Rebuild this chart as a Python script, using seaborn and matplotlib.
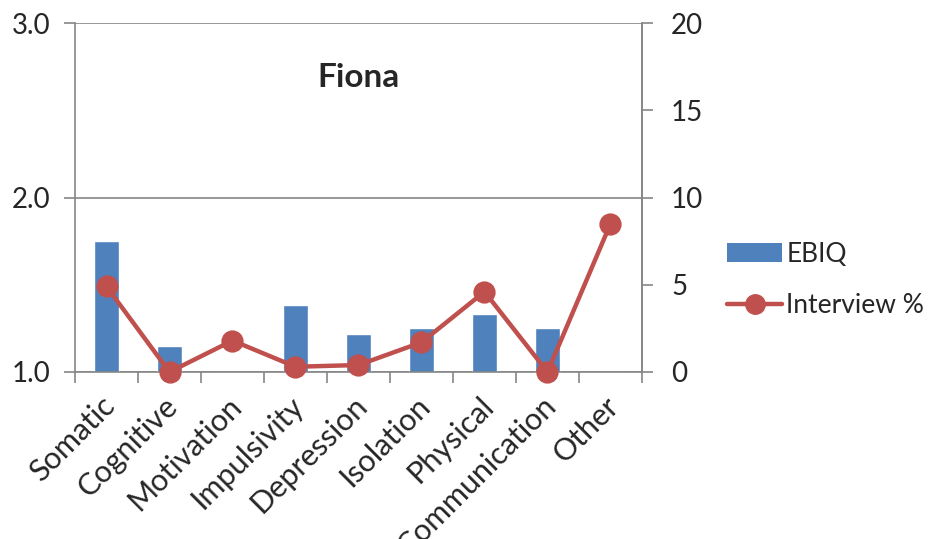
import matplotlib
matplotlib.use("Agg")
import matplotlib.pyplot as plt
from matplotlib.lines import Line2D
from matplotlib.patches import Patch
from matplotlib.ticker import FixedLocator, NullFormatter
from matplotlib.transforms import ScaledTranslation
import numpy as np
import pandas as pd
import seaborn as sns

categories = ["Somatic", "Cognitive", "Motivation", "Impulsivity", "Depression",
              "Isolation", "Physical", "Communication", "Other"]
ebiq = [1.75, 1.15, 1.0, 1.385, 1.22, 1.25, 1.333, 1.25, 1.0]
interview_pct = [4.9, 0.0, 1.8, 0.3, 0.4, 1.7, 4.6, 0.0, 8.5]
left_ticks = [1.0, 2.0, 3.0]
left_labels = ["1.0", "2.0", "3.0"]
right_ticks = [0, 5, 10, 15, 20]

BAR_COLOR = "#4F81BD"
LINE_COLOR = "#C0504D"
AXIS_GREY = "#868686"

sns.set_theme(style="white")
plt.rcParams["font.family"] = ["Lato", "DejaVu Sans"]

df = pd.DataFrame({"category": categories, "EBIQ": ebiq, "Interview %": interview_pct})

fig = plt.figure(figsize=(9.29, 5.39), dpi=100)
ax = fig.add_axes([75 / 929, 1 - 372 / 539, (642 - 75) / 929, (372 - 23) / 539])

sns.barplot(data=df, x="category", y="EBIQ", color=BAR_COLOR, width=0.4,
            saturation=1, ax=ax, zorder=2)
ax.set_ylim(1.0, 3.0)
ax.set_xlim(-0.5, len(categories) - 0.5)
ax.set_yticks(left_ticks)
ax.set_yticklabels(left_labels)
ax.yaxis.grid(True, color=AXIS_GREY, linewidth=1.2)
ax.set_axisbelow(True)
ax.set_xlabel("")
ax.set_ylabel("")

# category boundary ticks along the bottom
ax.xaxis.set_minor_locator(FixedLocator(np.arange(-0.5, len(categories), 1.0)))
ax.xaxis.set_minor_formatter(NullFormatter())
ax.tick_params(axis="x", which="minor", length=8, width=1.2, color=AXIS_GREY, direction="out", bottom=True)
ax.tick_params(axis="x", which="major", length=0, pad=21)
ax.tick_params(axis="y", which="major", length=8, width=1.2, color=AXIS_GREY, direction="out",
               left=True, labelsize=20, pad=10)
ax.set_xticks(range(len(categories)))
ax.set_xticklabels(categories, rotation=45, ha="right", va="center",
                   rotation_mode="anchor", fontsize=22)
shift = ScaledTranslation(4 / 100, 0, fig.dpi_scale_trans)
for lab in ax.get_xticklabels():
    lab.set_transform(lab.get_transform() + shift)

for side in ["left", "bottom", "right"]:
    ax.spines[side].set_color(AXIS_GREY)
    ax.spines[side].set_linewidth(1.2)
ax.spines["top"].set_visible(False)

ax2 = ax.twinx()
sns.pointplot(data=df, x="category", y="Interview %", color=LINE_COLOR, markers="o",
              linestyles="-", ax=ax2, zorder=3)
for ln in ax2.lines:
    ln.set_linewidth(3.2)
    ln.set_markersize(14)
    ln.set_clip_on(False)
ax2.set_ylim(0, 20)
ax2.set_xlim(-0.5, len(categories) - 0.5)
ax2.set_yticks(right_ticks)
ax2.set_ylabel("")
ax2.set_xlabel("")
ax2.tick_params(axis="y", length=8, width=1.2, color=AXIS_GREY, direction="out",
                right=True, labelsize=20, pad=13)
for side in ["left", "bottom", "right", "top"]:
    ax2.spines[side].set_visible(False)
ax2.spines["right"].set_visible(True)
ax2.spines["right"].set_color(AXIS_GREY)
ax2.spines["right"].set_linewidth(1.2)
ax2.grid(False)

ax.text(0.5, 0.845, "Fiona", transform=ax.transAxes, ha="center", va="center",
        fontsize=24, fontweight="bold")

handles = [
    Patch(facecolor=BAR_COLOR, edgecolor="none", label="EBIQ"),
    Line2D([0], [0], color=LINE_COLOR, linewidth=3.2, marker="o", markersize=14,
           label="Interview %"),
]
fig.legend(handles=handles, loc="center left", bbox_to_anchor=(727 / 929, 1 - 280 / 539),
           frameon=False, fontsize=19, handlelength=2.1, handletextpad=0.15,
           labelspacing=1.0, borderaxespad=0, borderpad=0)

fig.savefig("out.png", dpi=100)
